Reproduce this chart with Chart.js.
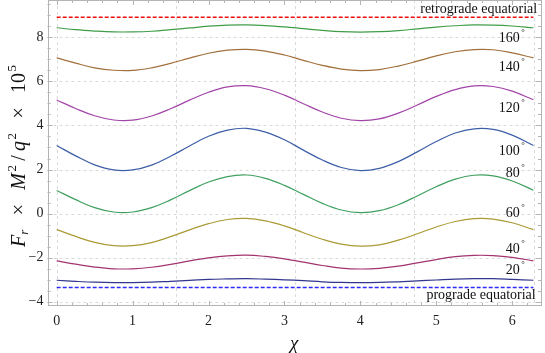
<!DOCTYPE html>
<html><head><meta charset="utf-8">
<script src="https://cdn.jsdelivr.net/npm/chart.js@4"></script>
<style>html,body{margin:0;padding:0;background:#fff}canvas{display:block}</style>
</head><body>
<canvas id="c" width="545" height="353"></canvas>
<script>
// ---- data ----
const chi = [0,0.25,0.5,0.75,1,1.25,1.5,1.75,2,2.25,2.5,2.75,3,3.25,3.5,3.75,4,4.25,4.5,4.75,5,5.25,5.5,5.75,6,6.28];
const f160 = [8.44,8.35,8.29,8.25,8.25,8.28,8.35,8.43,8.51,8.56,8.57,8.54,8.48,8.40,8.32,8.26,8.24,8.26,8.31,8.39,8.47,8.53,8.57,8.56,8.52,8.44];
const f140 = [7.07,6.83,6.62,6.51,6.50,6.62,6.82,7.06,7.28,7.42,7.46,7.38,7.20,6.96,6.73,6.56,6.49,6.54,6.70,6.92,7.16,7.35,7.45,7.44,7.30,7.07];
const f120 = [5.16,4.77,4.44,4.25,4.24,4.43,4.76,5.15,5.51,5.75,5.81,5.67,5.38,4.99,4.61,4.33,4.22,4.30,4.56,4.93,5.32,5.63,5.80,5.77,5.56,5.17];
const f100 = [3.09,2.62,2.21,1.98,1.98,2.20,2.60,3.07,3.51,3.79,3.87,3.70,3.35,2.88,2.43,2.09,1.95,2.05,2.36,2.80,3.27,3.66,3.85,3.82,3.56,3.09];
const f80  = [1.05,0.63,0.27,0.07,0.07,0.27,0.62,1.04,1.43,1.68,1.75,1.60,1.28,0.87,0.46,0.16,0.04,0.13,0.40,0.80,1.22,1.56,1.74,1.71,1.48,1.06];
const f60  = [-0.73,-1.04,-1.31,-1.46,-1.46,-1.32,-1.05,-0.74,-0.46,-0.27,-0.22,-0.33,-0.56,-0.87,-1.17,-1.39,-1.48,-1.42,-1.21,-0.92,-0.61,-0.36,-0.23,-0.25,-0.42,-0.73];
const f40  = [-2.15,-2.30,-2.43,-2.51,-2.51,-2.44,-2.31,-2.15,-2.01,-1.92,-1.89,-1.95,-2.06,-2.21,-2.36,-2.48,-2.52,-2.49,-2.39,-2.24,-2.09,-1.96,-1.90,-1.91,-1.99,-2.15];
const f20  = [-3.03,-3.08,-3.12,-3.14,-3.14,-3.12,-3.08,-3.04,-2.99,-2.97,-2.96,-2.98,-3.01,-3.05,-3.10,-3.13,-3.14,-3.13,-3.10,-3.06,-3.02,-2.98,-2.96,-2.96,-2.99,-3.03];
const eqX = [0, 6.28];
const retroY = [8.92, 8.92];
const progradeY = [-3.36, -3.36];
const xTicks = [0,1,2,3,4,5,6];
const yTicks = [-4,-2,0,2,4,6,8];
const xGrid = [0, Math.PI/2, Math.PI, 3*Math.PI/2, 2*Math.PI];
const curveLabels = ['160','140','120','100','80','60','40','20'];
const labelX = [6.10,6.10,6.10,6.10,6.10,6.10,6.10,6.10];
const labelY = [7.98,6.66,4.80,2.84,1.84,0.02,-1.61,-2.57];
const eqLabels = ['retrograde equatorial','prograde equatorial'];
const eqLabelX = [6.33, 6.31];
const eqLabelY = [9.27, -3.70];

const SERIF = '"Liberation Serif", "DejaVu Serif", serif';
const pts = (xs, ys) => xs.map((x, i) => ({x, y: ys[i]}));
const curve = (ys, color) => ({data: pts(chi, ys), borderColor: color, borderWidth: 1.2, pointRadius: 0, tension: 0.4, fill: false});

const datasets = [
  {data: pts(eqX, retroY), borderColor: '#ee1111', borderWidth: 1.5, borderDash: [4,2], pointRadius: 0, fill: false},
  curve(f160, '#3f9d48'),
  curve(f140, '#a2703c'),
  curve(f120, '#a245a8'),
  curve(f100, '#3d5fa8'),
  curve(f80,  '#40a060'),
  curve(f60,  '#aa9a36'),
  curve(f40,  '#a3336f'),
  curve(f20,  '#33368e'),
  {data: pts(eqX, progradeY), borderColor: '#2b2bff', borderWidth: 1.5, borderDash: [4,2], pointRadius: 0, fill: false}
];

const decor = {
  id: 'decor',
  beforeDatasetsDraw(chart) {
    const {ctx, chartArea: a, scales: {x, y}} = chart;
    ctx.save();
    ctx.strokeStyle = '#dadada'; ctx.lineWidth = 1; ctx.setLineDash([3,3]);
    xGrid.forEach(v => { const p = Math.round(x.getPixelForValue(v)) + 0.5; ctx.beginPath(); ctx.moveTo(p, a.top); ctx.lineTo(p, a.bottom); ctx.stroke(); });
    yTicks.forEach(v => { const p = Math.round(y.getPixelForValue(v)) + 0.5; ctx.beginPath(); ctx.moveTo(a.left, p); ctx.lineTo(a.right, p); ctx.stroke(); });
    ctx.setLineDash([]);
    ctx.strokeStyle = '#b4b4b4';
    ctx.strokeRect(Math.round(a.left)+0.5, Math.round(a.top)+0.5, Math.round(a.right-a.left)-1, Math.round(a.bottom-a.top)-1);
    const tick = (x1,y1,x2,y2) => { ctx.beginPath(); ctx.moveTo(x1,y1); ctx.lineTo(x2,y2); ctx.stroke(); };
    for (let k = 0; k <= 32; k++) {
      const v = k * 0.2; const major = k % 5 === 0; const L = major ? 5 : 3;
      const p = Math.round(x.getPixelForValue(v)) + 0.5;
      if (p < a.left || p > a.right) continue;
      tick(p, a.bottom, p, a.bottom - L); tick(p, a.top, p, a.top + L);
    }
    for (let k = -8; k <= 19; k++) {
      const v = k * 0.5; const major = k % 4 === 0; const L = major ? 5 : 3;
      const p = Math.round(y.getPixelForValue(v)) + 0.5;
      if (p < a.top || p > a.bottom) continue;
      tick(a.left, p, a.left + L, p); tick(a.right, p, a.right - L, p);
    }
    ctx.restore();
  },
  afterDatasetsDraw(chart) {
    const {ctx, chartArea: a, scales: {x, y}} = chart;
    ctx.save();
    ctx.fillStyle = '#111';
    ctx.textBaseline = 'middle';
    curveLabels.forEach((t, i) => {
      const px = x.getPixelForValue(labelX[i]), py = y.getPixelForValue(labelY[i]);
      ctx.font = '14px ' + SERIF; ctx.textAlign = 'right'; ctx.fillText(t, px, py);
      ctx.font = '9px ' + SERIF; ctx.textAlign = 'left'; ctx.fillText('°', px + 1.5, py - 5);
    });
    ctx.font = '14px ' + SERIF; ctx.textAlign = 'right';
    eqLabels.forEach((t, i) => ctx.fillText(t, x.getPixelForValue(eqLabelX[i]), y.getPixelForValue(eqLabelY[i])));
    ctx.textAlign = 'center';
    ctx.font = 'italic 19px ' + SERIF;
    ctx.fillText('χ', (a.left + a.right) / 2, 344);
    // y title rotated with sub/superscripts
    const segs = [
      {t:'F', f:'italic 20px'}, {t:'r', f:'italic 13px', dy: 5},
      {t:'×', f:'20px', g: 1}, {t:'M', f:'italic 20px', g: 1}, {t:'2', f:'13px', dy:-7, g: 0.1},
      {t:'/', f:'20px', g: 0.3}, {t:'q', f:'italic 20px', g: 0.3}, {t:'2', f:'13px', dy:-7, g: 0.1},
      {t:'×', f:'20px', g: 1}, {t:'10', f:'20px', g: 1}, {t:'5', f:'13px', dy:-7, g: 0.1}
    ];
    const target = 182;
    let glyphs = 0, gw = 0;
    segs.forEach(s => { ctx.font = s.f + ' ' + SERIF; s.w = ctx.measureText(s.t).width; glyphs += s.w; gw += (s.g || 0); });
    const unit = Math.max(0, (target - glyphs) / gw);
    ctx.translate(18, 156); ctx.rotate(-Math.PI/2);
    ctx.textAlign = 'left'; ctx.textBaseline = 'middle';
    let cx = -target / 2;
    segs.forEach(s => { cx += (s.g || 0) * unit; ctx.font = s.f + ' ' + SERIF; ctx.fillText(s.t, cx, 2 + (s.dy || 0)); cx += s.w; });
    ctx.restore();
  }
};

new Chart(document.getElementById('c'), {
  type: 'line',
  data: {datasets},
  options: {
    responsive: false, animation: false, devicePixelRatio: 1,
    layout: {padding: {top: 0, right: 4, left: 0, bottom: 0}},
    plugins: {legend: {display: false}, tooltip: {enabled: false}},
    scales: {
      x: {type: 'linear', min: -0.121, max: 6.38,
          afterBuildTicks: s => { s.ticks = xTicks.map(v => ({value: v})); },
          afterFit: s => { s.height = 47; s.paddingLeft = 0; s.paddingRight = 0; },
          grid: {display: false, drawTicks: false}, border: {display: false},
          ticks: {padding: 7, color: '#222', font: {family: SERIF, size: 14}, maxRotation: 0}},
      y: {type: 'linear', min: -4.2, max: 9.7,
          afterBuildTicks: s => { s.ticks = yTicks.map(v => ({value: v})); },
          afterFit: s => { s.width = 47.5; s.paddingTop = 0; s.paddingBottom = 0; },
          grid: {display: false, drawTicks: false}, border: {display: false},
          ticks: {padding: 4, color: '#222', font: {family: SERIF, size: 14},
                  callback: v => String(v).replace('-', '\u2212')}}
    }
  },
  plugins: [decor]
});
</script>
</body></html>
